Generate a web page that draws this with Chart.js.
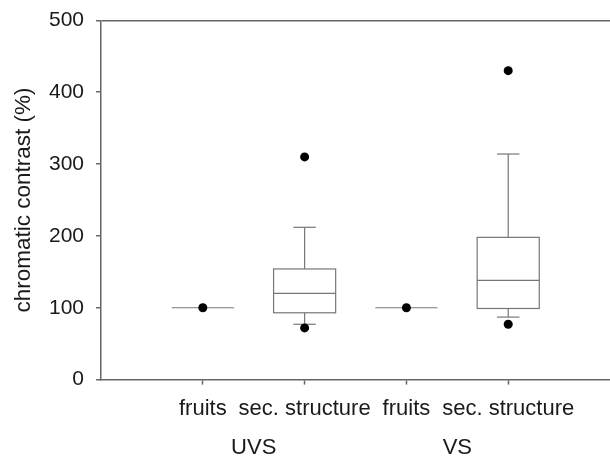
<!DOCTYPE html>
<html>
<head>
<meta charset="utf-8">
<script src="https://cdn.jsdelivr.net/npm/chart.js@4"></script>
<style>
  html, body { margin: 0; padding: 0; background: #fff; }
  #wrap { width: 610px; height: 456px; }
</style>
</head>
<body>
<div id="wrap"><canvas id="boxChart"></canvas></div>
<script>
/* ---- data ---- */
const categories = ["fruits", "sec. structure", "fruits", "sec. structure"];
const groups = ["UVS", "VS"];
const whiskerLow = [100, 77, 100, 87];
const q1 = [100, 93, 100, 99];
const median = [100, 120, 100, 138];
const q3 = [100, 154, 100, 198];
const whiskerHigh = [100, 212, 100, 314];
const points = [[100], [310, 72], [100], [430, 77]];
const yTicks = [0, 100, 200, 300, 400, 500];

const AXIS = "#666666";
const LINE = "#777777";
const TEXT = "#1a1a1a";
const FONT = "'Liberation Sans', Arial, sans-serif";

Chart.defaults.font.family = FONT;
Chart.defaults.color = TEXT;

// scatter points (single values + outliers)
const pointData = [];
points.forEach((vals, i) => vals.forEach(v => pointData.push({ x: i + 1, y: v })));

// draws the boxes, whiskers and caps through the scales
const boxPlugin = {
    id: "boxes",
    beforeDatasetsDraw(chart) {
        const { ctx, scales: { x, y } } = chart;
        const boxW = 0.61, capW = 0.22;
        ctx.save();
        ctx.strokeStyle = LINE;
        ctx.lineWidth = 1.2;
        categories.forEach((c, i) => {
            const cx = i + 1;
            const left = x.getPixelForValue(cx - boxW / 2);
            const right = x.getPixelForValue(cx + boxW / 2);
            const mid = x.getPixelForValue(cx);
            const hline = (v, x0, x1) => {
                ctx.beginPath();
                ctx.moveTo(x0, y.getPixelForValue(v));
                ctx.lineTo(x1, y.getPixelForValue(v));
                ctx.stroke();
            };
            if (q1[i] === q3[i]) {
                hline(median[i], left, right);
                return;
            }
            const top = y.getPixelForValue(q3[i]);
            const bot = y.getPixelForValue(q1[i]);
            ctx.strokeRect(left, top, right - left, bot - top);
            hline(median[i], left, right);
            // whiskers
            ctx.beginPath();
            ctx.moveTo(mid, top);
            ctx.lineTo(mid, y.getPixelForValue(whiskerHigh[i]));
            ctx.moveTo(mid, bot);
            ctx.lineTo(mid, y.getPixelForValue(whiskerLow[i]));
            ctx.stroke();
            const c0 = x.getPixelForValue(cx - capW / 2);
            const c1 = x.getPixelForValue(cx + capW / 2);
            hline(whiskerHigh[i], c0, c1);
            hline(whiskerLow[i], c0, c1);
        });
        ctx.restore();
    },
    afterDraw(chart) {
        // group labels under the category labels
        const { ctx, scales: { x } } = chart;
        ctx.save();
        ctx.fillStyle = TEXT;
        ctx.font = "22px " + FONT;
        ctx.textAlign = "center";
        ctx.textBaseline = "middle";
        groups.forEach((g, gi) => {
            ctx.fillText(g, x.getPixelForValue(gi * 2 + 1.5), x.bottom + 15);
        });
        ctx.restore();
    }
};

new Chart(document.getElementById("boxChart"), {
    type: "scatter",
    data: {
        datasets: [{
            data: pointData,
            pointRadius: 4.5,
            pointHoverRadius: 4.5,
            backgroundColor: "#000",
            borderWidth: 0
        }]
    },
    options: {
        responsive: true,
        maintainAspectRatio: false,
        animation: false,
        layout: { autoPadding: false, padding: { left: 6, right: 0, top: 20, bottom: 23 } },
        plugins: { legend: { display: false }, tooltip: { enabled: false } },
        scales: {
            x: {
                type: "linear",
                min: 0,
                max: 5,
                afterBuildTicks: scale => {
                    scale.ticks = categories.map((c, i) => ({ value: i + 1 }));
                },
                ticks: {
                    autoSkip: false,
                    maxRotation: 0,
                    padding: 11,
                    font: { size: 22 },
                    callback: v => categories[v - 1]
                },
                grid: { drawOnChartArea: false, tickLength: 5, tickColor: AXIS, tickWidth: 1.5 },
                border: { color: AXIS, width: 1.5 }
            },
            y: {
                min: 0,
                max: 500,
                afterBuildTicks: scale => {
                    scale.ticks = yTicks.map(v => ({ value: v }));
                },
                ticks: { padding: 12, font: { size: 21, lineHeight: 0.8 } },
                grid: {
                    tickLength: 5,
                    tickColor: AXIS,
                    tickWidth: 1.5,
                    lineWidth: 1.5,
                    color: c => (c.tick && c.tick.value === 500 ? AXIS : "transparent")
                },
                border: { color: AXIS, width: 1.5 },
                title: {
                    display: true,
                    text: "chromatic contrast (%)",
                    font: { size: 22.5 },
                    padding: { top: 4, bottom: 0 }
                }
            }
        }
    },
    plugins: [boxPlugin]
});
</script>
</body>
</html>
